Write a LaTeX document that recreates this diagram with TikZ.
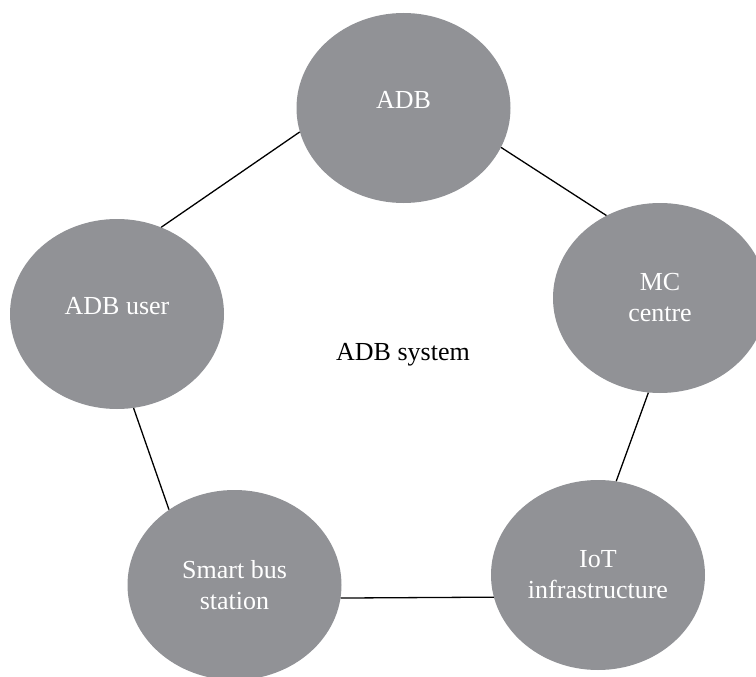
\documentclass[tikz,border=0pt]{standalone}
\usepackage{fontspec}
\setmainfont{Liberation Serif}
\usetikzlibrary{shapes.geometric}

\definecolor{bubblegray}{RGB}{145,146,150}

\tikzset{
  bubble/.style={ellipse, fill=bubblegray, text=white, align=center,
    minimum width=214pt, minimum height=190pt, inner sep=0pt,
    font=\fontsize{26}{31}\selectfont},
  % single line labels sit a little high in their bubble
  oneline/.style={text depth=17pt},
  link/.style={line width=1.3pt, black}
}

\begin{document}
\begin{tikzpicture}[x=1pt, y=-1pt]
  % fix the page to the size of the drawing
  \useasboundingbox (0, 0) rectangle (756, 677);
  % Draw the bubbles
  \node [bubble, oneline] (adb) at (403.5, 108) {ADB};
  \node [bubble, oneline] (user) at (117, 314) {ADB user};
  \node [bubble] (mc) at (660, 298) {MC\\centre};
  \node [bubble] (iot) at (598, 575) {IoT\\infrastructure};
  \node [bubble] (bus) at (234.5, 585) {Smart bus\\station};
  % Add system label
  \node [font=\fontsize{26}{31}\selectfont] (sys) at (403, 355) {ADB system};
  % Draw links round the ring
  \draw [link] (adb.338) -- (mc.123);
  \draw [link] (mc.263) -- (iot.79);
  \draw [link] (iot.192) -- (bus.353);
  \draw [link] (bus.131) -- (user.280);
  \draw [link] (user.63) -- (adb.193);
\end{tikzpicture}
\end{document}
